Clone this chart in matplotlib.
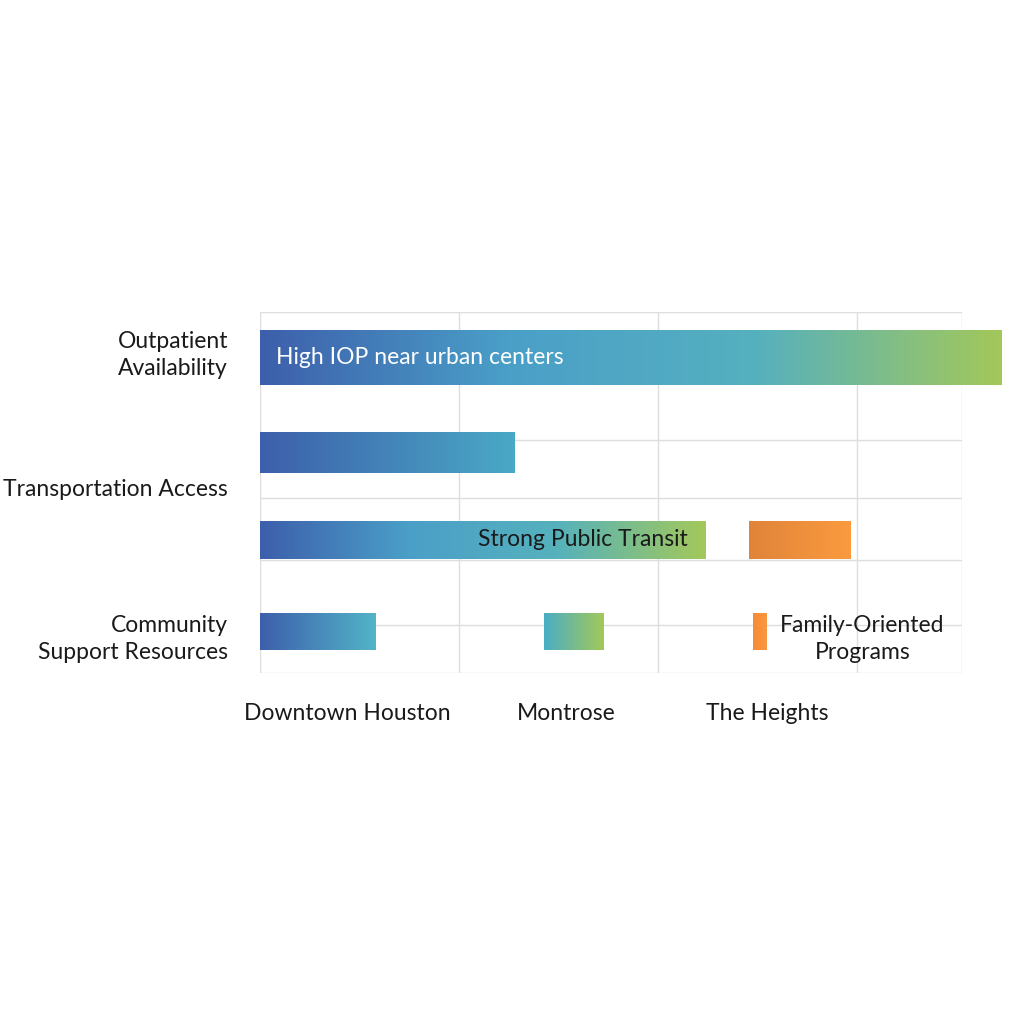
import matplotlib
matplotlib.use("Agg")
import matplotlib.pyplot as plt
import numpy as np
from matplotlib.colors import LinearSegmentedColormap

plt.rcParams['font.family'] = ['Lato', 'DejaVu Sans']

categories = ["Outpatient\nAvailability", "Transportation Access", "Community\nSupport Resources"]
cat_pos = [43, 178, 327]
neighborhoods = ["Downtown Houston", "Montrose", "The Heights"]
neigh_pos = [0.44, 1.54, 2.55]

bar_start = [0, 0, 0, 2.46, 0, 1.43, 2.48]
bar_end = [3.73, 1.28, 2.24, 2.97, 0.58, 1.73, 2.55]
bar_y = [45.5, 140.5, 228, 228, 319.5, 319.5, 319.5]
bar_h = [55, 41, 38, 38, 37, 37, 37]
bar_cols = [
    ["#3d5fab", "#4a9fc8", "#55b0bf", "#a3c85a"],
    ["#3d5fab", "#4aa9c6"],
    ["#3d5fab", "#4a9fc8", "#55b2bc", "#a3c85a"],
    ["#e0843a", "#fb9a3e"],
    ["#3d5fab", "#52b4c8"],
    ["#4aaec4", "#a3c85a"],
    ["#f88b35", "#f8983f"],
]

fig = plt.figure(figsize=(10.24, 10.24), dpi=100)
ax = fig.add_axes([260/1024, 1-673/1024, 702/1024, 361/1024])

for x in [0, 1, 2, 3, 3.53]:
    ax.axvline(x, color="#dddddd", lw=1, zorder=0)
for y in [0, 128, 186, 248, 313, 361]:
    ax.axhline(y, color="#dddddd", lw=1, zorder=0)

grad = np.linspace(0, 1, 256).reshape(1, -1)
for s, e, y, h, c in zip(bar_start, bar_end, bar_y, bar_h, bar_cols):
    cmap = LinearSegmentedColormap.from_list("g", c)
    ax.imshow(grad, cmap=cmap, aspect="auto", extent=[s, e, y + h/2, y - h/2],
              zorder=2, clip_on=False)
ax.set_xlim(0, 3.53)
ax.set_ylim(361, 0)

fs = 16.5
ax.text(0.08, 45.5, "High IOP near urban centers", color="white", fontsize=fs, va="center")
ax.text(2.15, 228, "Strong Public Transit", color="#1a1a1a", fontsize=fs, va="center", ha="right")
ax.text(3.03, 327, "Family-Oriented\nPrograms", color="#1a1a1a", fontsize=fs, va="center",
        ha="center", linespacing=1.35)

for lab, y in zip(categories, cat_pos):
    ax.text(-0.16, y, lab, ha="right", va="center", fontsize=fs, color="#1a1a1a", linespacing=1.35)
for lab, x in zip(neighborhoods, neigh_pos):
    ax.text(x, 402, lab, ha="center", va="center", fontsize=fs, color="#1a1a1a")

for sp in ax.spines.values():
    sp.set_visible(False)
ax.set_xticks([]); ax.set_yticks([])
fig.savefig("out.png", dpi=100, facecolor="white")
